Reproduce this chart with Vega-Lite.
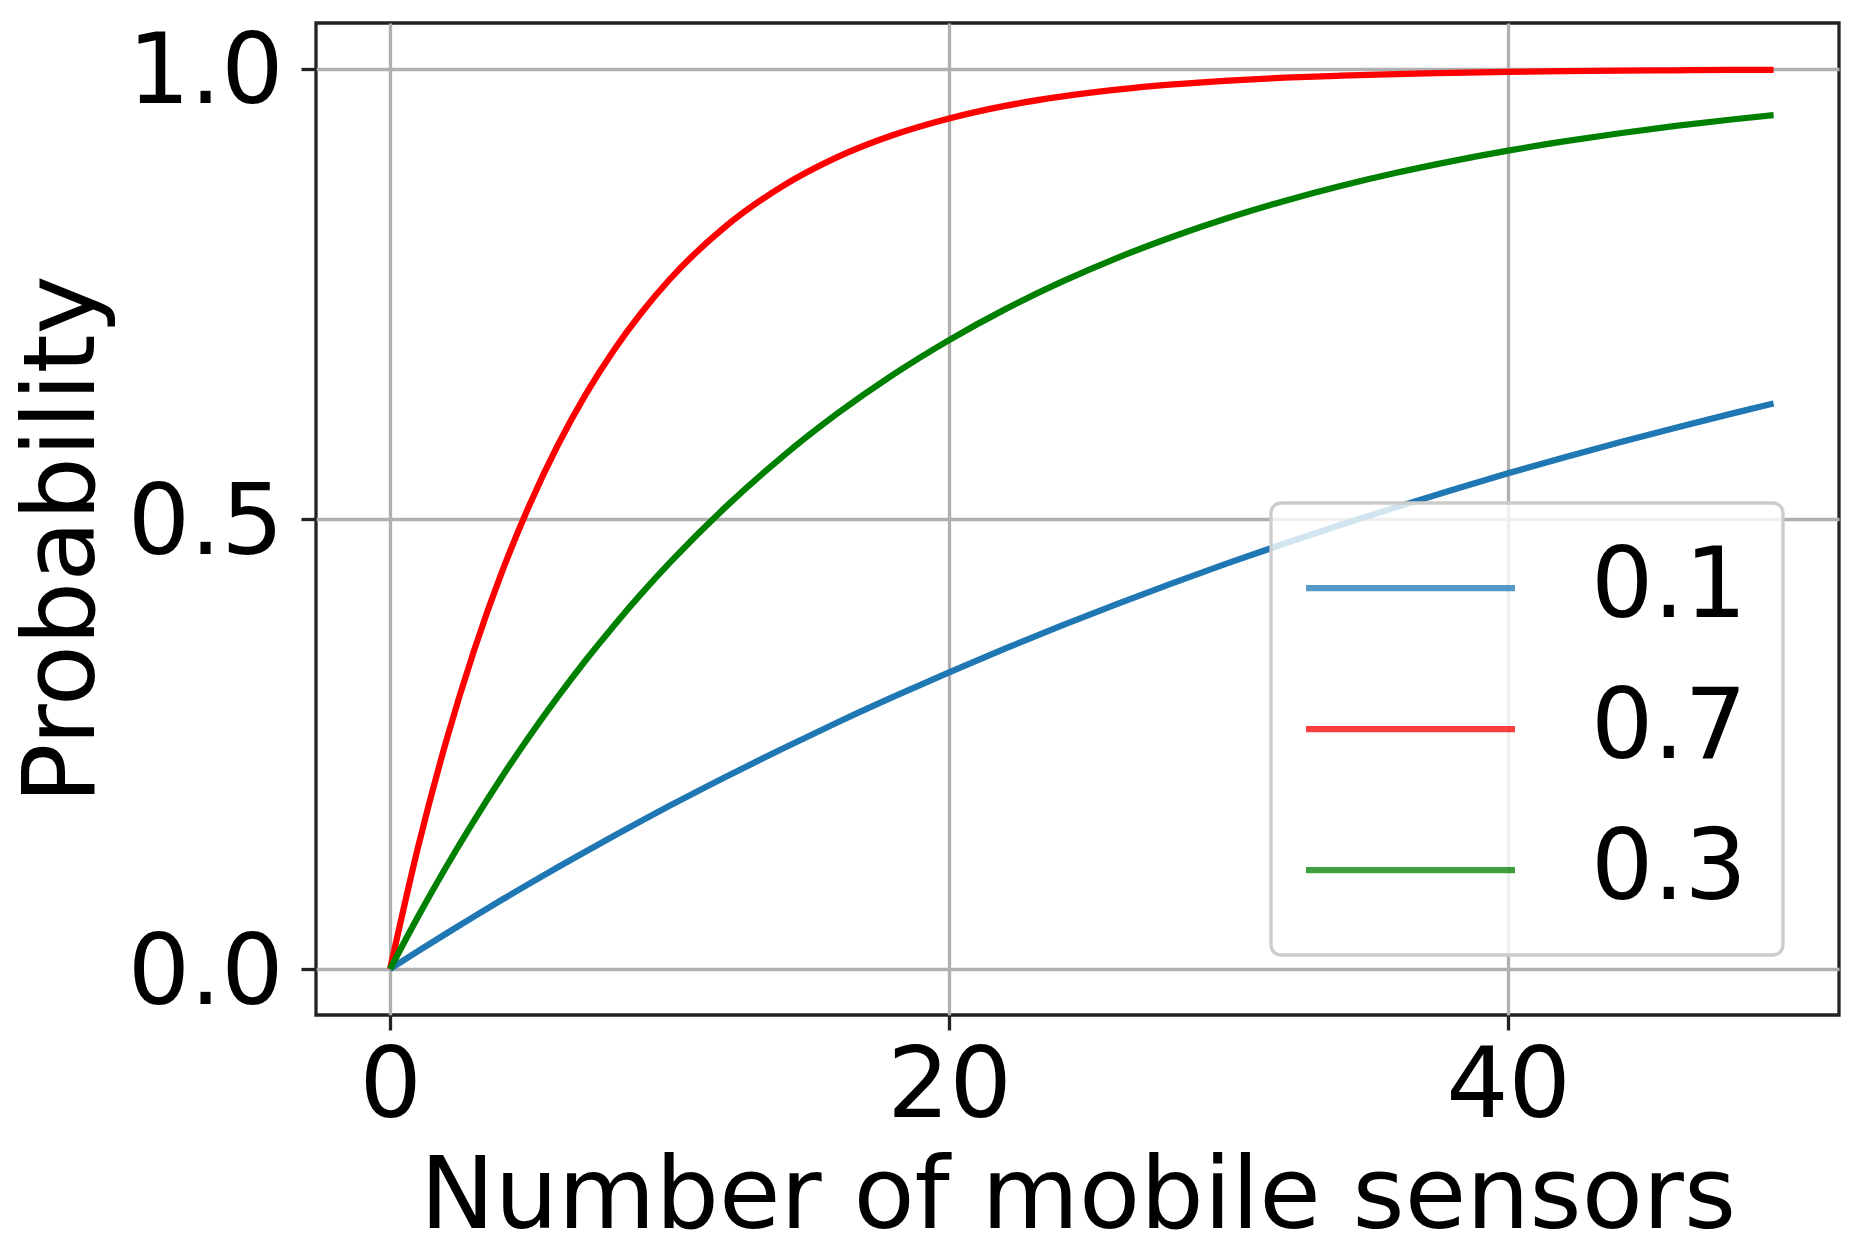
{
  "$schema": "https://vega.github.io/schema/vega-lite/v6.json",
  "width": 1523,
  "height": 992,
  "autosize": {"type": "none"},
  "padding": {"left": 316, "top": 23, "right": 23, "bottom": 236},
  "background": "white",
  "data": {
    "values": [
      {"n": 0, "p": "0.1", "v": 0}, {"n": 1, "p": "0.1", "v": 0.0198}, {"n": 2, "p": "0.1", "v": 0.0392}, {"n": 3, "p": "0.1", "v": 0.0582}, {"n": 4, "p": "0.1", "v": 0.0769}, {"n": 5, "p": "0.1", "v": 0.0952}, {"n": 6, "p": "0.1", "v": 0.1131}, {"n": 7, "p": "0.1", "v": 0.1306}, {"n": 8, "p": "0.1", "v": 0.1479}, {"n": 9, "p": "0.1", "v": 0.1647}, {"n": 10, "p": "0.1", "v": 0.1813}, {"n": 12, "p": "0.1", "v": 0.2134}, {"n": 14, "p": "0.1", "v": 0.2442}, {"n": 16, "p": "0.1", "v": 0.2739}, {"n": 18, "p": "0.1", "v": 0.3023}, {"n": 20, "p": "0.1", "v": 0.3297}, {"n": 22, "p": "0.1", "v": 0.356}, {"n": 24, "p": "0.1", "v": 0.3812}, {"n": 26, "p": "0.1", "v": 0.4055}, {"n": 28, "p": "0.1", "v": 0.4288}, {"n": 30, "p": "0.1", "v": 0.4512}, {"n": 32, "p": "0.1", "v": 0.4727}, {"n": 34, "p": "0.1", "v": 0.4934}, {"n": 36, "p": "0.1", "v": 0.5132}, {"n": 38, "p": "0.1", "v": 0.5323}, {"n": 40, "p": "0.1", "v": 0.5507}, {"n": 42, "p": "0.1", "v": 0.5683}, {"n": 44, "p": "0.1", "v": 0.5852}, {"n": 46, "p": "0.1", "v": 0.6015}, {"n": 48, "p": "0.1", "v": 0.6171}, {"n": 49.5, "p": "0.1", "v": 0.6284},
      {"n": 0, "p": "0.7", "v": 0}, {"n": 1, "p": "0.7", "v": 0.1353}, {"n": 2, "p": "0.7", "v": 0.2523}, {"n": 3, "p": "0.7", "v": 0.3535}, {"n": 4, "p": "0.7", "v": 0.4409}, {"n": 5, "p": "0.7", "v": 0.5165}, {"n": 6, "p": "0.7", "v": 0.5819}, {"n": 7, "p": "0.7", "v": 0.6385}, {"n": 8, "p": "0.7", "v": 0.6873}, {"n": 9, "p": "0.7", "v": 0.7295}, {"n": 10, "p": "0.7", "v": 0.7661}, {"n": 12, "p": "0.7", "v": 0.825}, {"n": 14, "p": "0.7", "v": 0.869}, {"n": 16, "p": "0.7", "v": 0.902}, {"n": 18, "p": "0.7", "v": 0.9266}, {"n": 20, "p": "0.7", "v": 0.945}, {"n": 22, "p": "0.7", "v": 0.959}, {"n": 24, "p": "0.7", "v": 0.9693}, {"n": 26, "p": "0.7", "v": 0.977}, {"n": 28, "p": "0.7", "v": 0.9828}, {"n": 30, "p": "0.7", "v": 0.9871}, {"n": 32, "p": "0.7", "v": 0.9903}, {"n": 34, "p": "0.7", "v": 0.9926}, {"n": 36, "p": "0.7", "v": 0.9944}, {"n": 38, "p": "0.7", "v": 0.9957}, {"n": 40, "p": "0.7", "v": 0.9967}, {"n": 42, "p": "0.7", "v": 0.9975}, {"n": 44, "p": "0.7", "v": 0.9981}, {"n": 46, "p": "0.7", "v": 0.9986}, {"n": 48, "p": "0.7", "v": 0.9989}, {"n": 49.5, "p": "0.7", "v": 0.9991},
      {"n": 0, "p": "0.3", "v": 0}, {"n": 1, "p": "0.3", "v": 0.0582}, {"n": 2, "p": "0.3", "v": 0.1131}, {"n": 3, "p": "0.3", "v": 0.1647}, {"n": 4, "p": "0.3", "v": 0.2134}, {"n": 5, "p": "0.3", "v": 0.2592}, {"n": 6, "p": "0.3", "v": 0.3023}, {"n": 7, "p": "0.3", "v": 0.343}, {"n": 8, "p": "0.3", "v": 0.3812}, {"n": 9, "p": "0.3", "v": 0.4173}, {"n": 10, "p": "0.3", "v": 0.4512}, {"n": 12, "p": "0.3", "v": 0.5132}, {"n": 14, "p": "0.3", "v": 0.5683}, {"n": 16, "p": "0.3", "v": 0.6171}, {"n": 18, "p": "0.3", "v": 0.6604}, {"n": 20, "p": "0.3", "v": 0.6988}, {"n": 22, "p": "0.3", "v": 0.7329}, {"n": 24, "p": "0.3", "v": 0.7631}, {"n": 26, "p": "0.3", "v": 0.7899}, {"n": 28, "p": "0.3", "v": 0.8136}, {"n": 30, "p": "0.3", "v": 0.8347}, {"n": 32, "p": "0.3", "v": 0.8534}, {"n": 34, "p": "0.3", "v": 0.87}, {"n": 36, "p": "0.3", "v": 0.8847}, {"n": 38, "p": "0.3", "v": 0.8977}, {"n": 40, "p": "0.3", "v": 0.9093}, {"n": 42, "p": "0.3", "v": 0.9195}, {"n": 44, "p": "0.3", "v": 0.9286}, {"n": 46, "p": "0.3", "v": 0.9367}, {"n": 48, "p": "0.3", "v": 0.9439}, {"n": 49.5, "p": "0.3", "v": 0.9487}
    ]
  },
  "mark": {"type": "line", "strokeWidth": 6.25, "interpolate": "monotone", "strokeCap": "butt"},
  "encoding": {
    "x": {
      "field": "n",
      "type": "quantitative",
      "scale": {"domain": [-2.65, 51.84], "nice": false, "zero": false},
      "axis": {
        "values": [0, 20, 40],
        "format": "d",
        "title": "Number of mobile sensors",
        "titleBaseline": "alphabetic",
        "titleY": 212,
        "labelBaseline": "alphabetic",
        "labelPadding": 86,
        "labelFlush": false
      }
    },
    "y": {
      "field": "v",
      "type": "quantitative",
      "scale": {"domain": [-0.0511, 1.0511], "nice": false, "zero": false},
      "axis": {
        "values": [0, 0.5, 1],
        "format": ".1f",
        "title": "Probability",
        "titleAngle": 270,
        "titleBaseline": "alphabetic",
        "titleAlign": "center",
        "titleX": -223,
        "titleY": 516,
        "labelBaseline": "alphabetic",
        "labelOffset": 34,
        "labelPadding": 18,
        "labelFlush": false
      }
    },
    "color": {
      "field": "p",
      "type": "nominal",
      "scale": {"domain": ["0.1", "0.7", "0.3"], "range": ["#1f77b4", "#ff0000", "#008000"]},
      "legend": {
        "title": null,
        "orient": "none",
        "legendX": 955,
        "legendY": 480,
        "symbolType": "M-2.5,0H2.5",
        "symbolSize": 6989,
        "symbolStrokeWidth": 6.25,
        "symbolOpacity": 0.75,
        "symbolOffset": 54.5,
        "labelOffset": 131.5,
        "rowPadding": 43,
        "padding": 36,
        "fillColor": "rgba(255,255,255,0.8)",
        "strokeColor": "#cccccc",
        "cornerRadius": 10
      }
    }
  },
  "config": {
    "view": {"stroke": "#222222", "strokeWidth": 3.3},
    "axis": {
      "domain": false,
      "grid": true,
      "gridColor": "#b0b0b0",
      "gridWidth": 3.3,
      "gridOpacity": 1,
      "ticks": true,
      "tickSize": 15,
      "tickWidth": 3.3,
      "tickColor": "#222222",
      "labelFont": "DejaVu Sans",
      "labelFontSize": 98,
      "labelColor": "#000000",
      "labelOverlap": false,
      "labelBound": false,
      "titleFont": "DejaVu Sans",
      "titleFontSize": 100,
      "titleFontWeight": "normal",
      "titleColor": "#000000"
    },
    "legend": {
      "labelFont": "DejaVu Sans",
      "labelFontSize": 98,
      "labelColor": "#000000",
      "labelLimit": 400,
      "strokeWidth": 3.3
    }
  }
}
